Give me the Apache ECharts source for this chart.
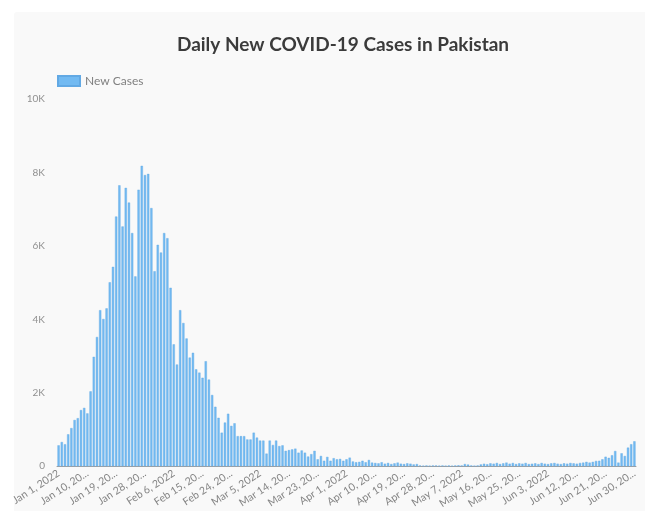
<!DOCTYPE html>
<html>
<head>
<meta charset="utf-8">
<script src="https://cdn.jsdelivr.net/npm/echarts@6/dist/echarts.min.js"></script>
<style>
  html, body { margin: 0; padding: 0; background: #ffffff; }
  #panel { position: absolute; left: 14px; top: 12px; width: 640px; height: 510px; background: #f9f9f9; border-radius: 3px; }
  #chart { position: absolute; left: 0; top: 0; width: 645px; height: 511px; }
</style>
</head>
<body>
<div id="panel"></div>
<div id="chart"></div>
<script>
// daily new cases, Jan 1 2022 .. Jun 30 2022
const janCases = [570, 660, 600, 870, 1040, 1260, 1310, 1530, 1590, 1440,
  2040, 2980, 3520, 4250, 4010, 4300, 5010, 5430, 6800, 7650,
  6530, 7580, 7180, 6350, 5170, 7530, 8180, 7930, 7960, 7030, 5310]
const febCases = [6030, 5820, 6350, 6210, 4860, 3320, 2770, 4250, 3900, 3480,
  2960, 3090, 2640, 2550, 2410, 2860, 2360, 1940, 1620, 1320,
  915, 1190, 1430, 1100, 1170, 820, 820, 820]
const marCases = [730, 730, 915, 780, 700, 700, 345, 700, 580, 700,
  550, 570, 420, 440, 460, 480, 370, 430, 370, 265,
  330, 420, 190, 280, 150, 255, 150, 220, 190, 200, 150]
const aprCases = [190, 235, 130, 110, 120, 150, 110, 172, 100, 90,
  80, 110, 70, 90, 60, 80, 100, 70, 60, 80,
  70, 50, 60, 20, 15, 20, 15, 20, 20, 15]
const mayCases = [20, 15, 20, 15, 20, 25, 20, 60, 45, 20,
  15, 20, 50, 70, 55, 80, 70, 90, 60, 80,
  100, 70, 90, 60, 80, 70, 90, 60, 70, 80, 60]
const junCases = [90, 70, 60, 80, 90, 70, 60, 80, 70, 90,
  80, 70, 90, 100, 120, 100, 120, 145, 150, 190,
  260, 230, 300, 415, 100, 353, 280, 507, 600, 680]

const monthNames = ['Jan', 'Feb', 'Mar', 'Apr', 'May', 'Jun']
const monthCases = [janCases, febCases, marCases, aprCases, mayCases, junCases]

let dates = []
let cases = []
monthCases.forEach((arr, m) => {
    arr.forEach((v, d) => {
        dates.push(monthNames[m] + ' ' + (d + 1) + ', 2022')
        cases.push(v)
    })
})

const yTicks = [0, 2000, 4000, 6000, 8000, 10000]
const yTickLabels = ['0', '2K', '4K', '6K', '8K', '10K']

const font = 'Lato'
let chart = echarts.init(document.getElementById('chart'), null, { renderer: 'canvas' })

chart.setOption({
    backgroundColor: 'transparent',
    textStyle: { fontFamily: font },
    title: {
        text: 'Daily New COVID-19 Cases in Pakistan',
        left: 338,
        top: 30,
        textAlign: 'center',
        textStyle: {
            fontFamily: font,
            fontSize: 19,
            fontWeight: 'bold',
            color: '#3b3b3b'
        }
    },
    legend: {
        left: 52,
        top: 70,
        itemWidth: 22,
        itemHeight: 10,
        itemGap: 10,
        textStyle: { color: '#808080', fontSize: 12, fontFamily: font },
        data: [{ name: 'New Cases', icon: 'rect' }]
    },
    grid: {
        left: 57,
        right: 9,
        top: 99,
        bottom: 44,
        containLabel: false
    },
    xAxis: {
        type: 'category',
        data: dates,
        axisLine: { lineStyle: { color: '#a0a0a0', width: 1 } },
        axisTick: { show: false },
        axisLabel: {
            interval: 8,
            rotate: 33,
            color: '#858585',
            fontSize: 10.5,
            fontFamily: font,
            margin: 6,
            // long labels get cut like the original chart does
            formatter: (s) => s.length > 11 ? s.slice(0, 10) + '...' : s
        }
    },
    yAxis: {
        type: 'value',
        min: yTicks[0],
        max: yTicks[yTicks.length - 1],
        interval: 2000,
        axisLine: { show: false },
        axisTick: { show: false },
        splitLine: { show: false },
        axisLabel: {
            color: '#909090',
            fontSize: 10,
            fontFamily: font,
            margin: 12,
            formatter: (v) => yTickLabels[yTicks.indexOf(v)]
        }
    },
    series: [{
        name: 'New Cases',
        type: 'bar',
        data: cases,
        barCategoryGap: '30%',
        itemStyle: {
            color: '#72baf2',
            borderColor: '#62a9e4',
            borderWidth: 0.4
        },
        animation: false
    }]
})
</script>
</body>
</html>
